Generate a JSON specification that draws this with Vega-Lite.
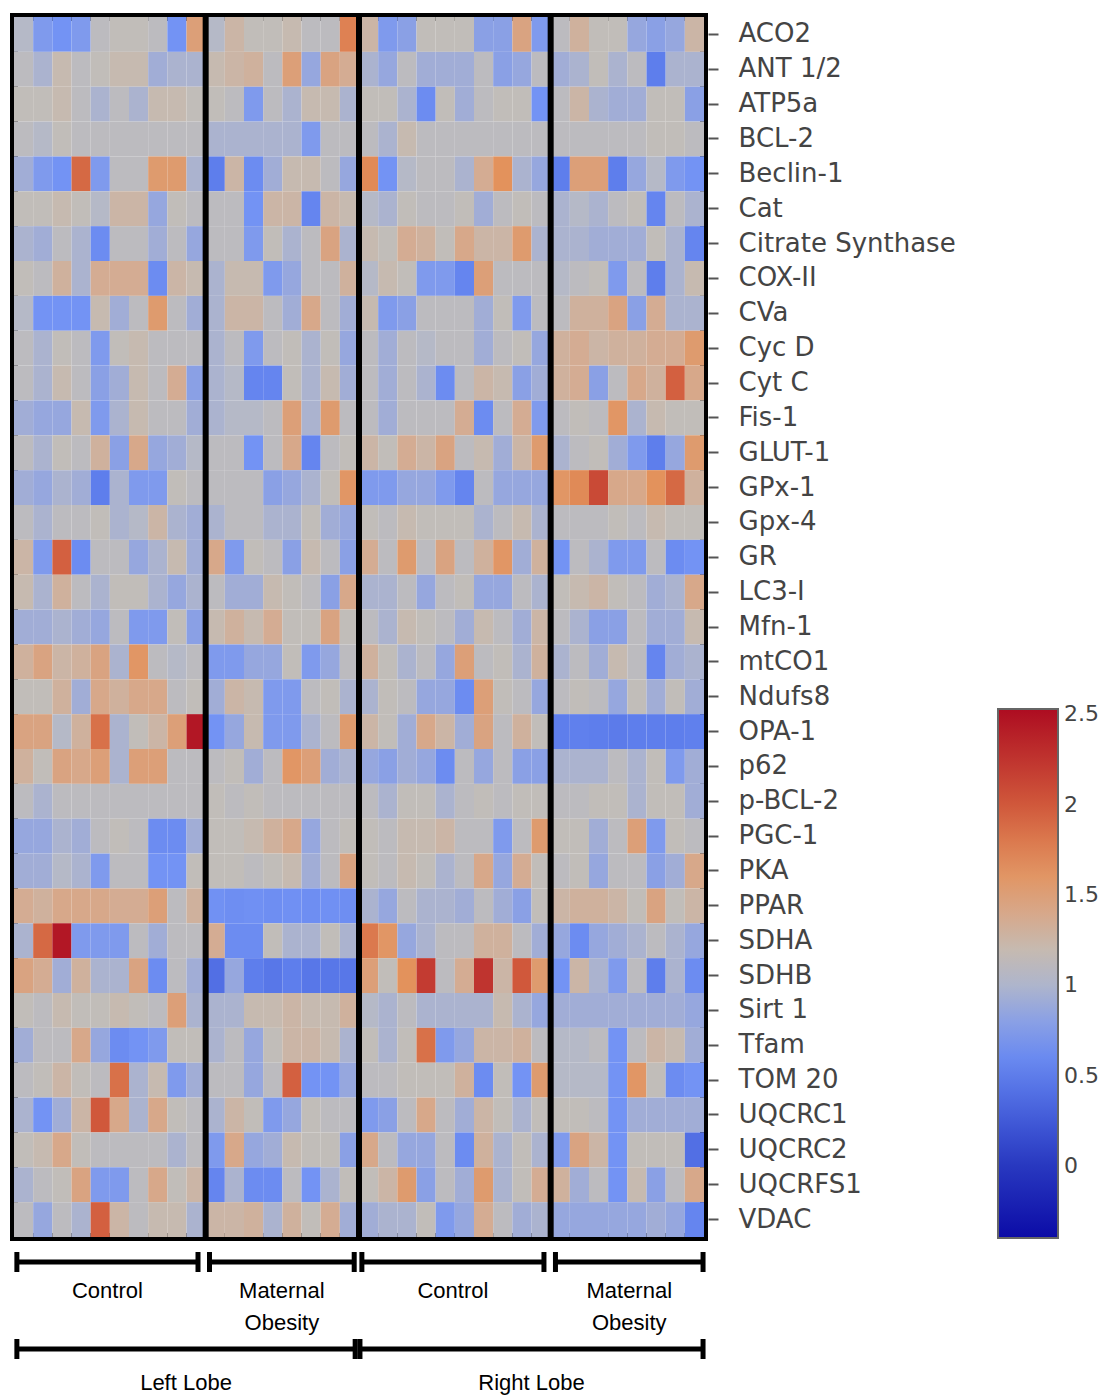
{
"$schema": "https://vega.github.io/schema/vega-lite/v6.json",
"padding": {"left": 10, "top": 10, "right": 0, "bottom": 0},
"background": "white",
"bounds": "flush",
"spacing": 0,
"config": {"font": "DejaVu Sans"},
"vconcat": [
{
"width": 690, "height": 1220,
"view": {"stroke": "black", "strokeWidth": 8},
"data": {"values": [
{"g":"ACO2","c":0,"v":1.04},{"g":"ACO2","c":1,"v":0.74},{"g":"ACO2","c":2,"v":0.68},{"g":"ACO2","c":3,"v":0.74},{"g":"ACO2","c":4,"v":1.1},{"g":"ACO2","c":5,"v":1.15},{"g":"ACO2","c":6,"v":1.15},{"g":"ACO2","c":7,"v":1.1},{"g":"ACO2","c":8,"v":0.68},{"g":"ACO2","c":9,"v":1.5},{"g":"ACO2","c":10,"v":1.04},{"g":"ACO2","c":11,"v":1.25},{"g":"ACO2","c":12,"v":1.15},{"g":"ACO2","c":13,"v":1.15},{"g":"ACO2","c":14,"v":1.2},{"g":"ACO2","c":15,"v":1.1},{"g":"ACO2","c":16,"v":1.1},{"g":"ACO2","c":17,"v":1.75},{"g":"ACO2","c":18,"v":1.25},{"g":"ACO2","c":19,"v":0.74},{"g":"ACO2","c":20,"v":0.8},{"g":"ACO2","c":21,"v":1.15},{"g":"ACO2","c":22,"v":1.15},{"g":"ACO2","c":23,"v":1.15},{"g":"ACO2","c":24,"v":0.8},{"g":"ACO2","c":25,"v":0.8},{"g":"ACO2","c":26,"v":1.45},{"g":"ACO2","c":27,"v":0.74},{"g":"ACO2","c":28,"v":1.1},{"g":"ACO2","c":29,"v":1.3},{"g":"ACO2","c":30,"v":1.15},{"g":"ACO2","c":31,"v":1.15},{"g":"ACO2","c":32,"v":0.86},{"g":"ACO2","c":33,"v":0.8},{"g":"ACO2","c":34,"v":0.86},{"g":"ACO2","c":35,"v":1.25},
{"g":"ANT 1/2","c":0,"v":1.1},{"g":"ANT 1/2","c":1,"v":0.98},{"g":"ANT 1/2","c":2,"v":1.2},{"g":"ANT 1/2","c":3,"v":1.1},{"g":"ANT 1/2","c":4,"v":1.15},{"g":"ANT 1/2","c":5,"v":1.2},{"g":"ANT 1/2","c":6,"v":1.2},{"g":"ANT 1/2","c":7,"v":0.92},{"g":"ANT 1/2","c":8,"v":0.98},{"g":"ANT 1/2","c":9,"v":0.98},{"g":"ANT 1/2","c":10,"v":1.2},{"g":"ANT 1/2","c":11,"v":1.25},{"g":"ANT 1/2","c":12,"v":1.3},{"g":"ANT 1/2","c":13,"v":1.1},{"g":"ANT 1/2","c":14,"v":1.5},{"g":"ANT 1/2","c":15,"v":0.86},{"g":"ANT 1/2","c":16,"v":1.45},{"g":"ANT 1/2","c":17,"v":1.35},{"g":"ANT 1/2","c":18,"v":0.98},{"g":"ANT 1/2","c":19,"v":0.86},{"g":"ANT 1/2","c":20,"v":1.1},{"g":"ANT 1/2","c":21,"v":0.92},{"g":"ANT 1/2","c":22,"v":0.92},{"g":"ANT 1/2","c":23,"v":0.92},{"g":"ANT 1/2","c":24,"v":1.1},{"g":"ANT 1/2","c":25,"v":0.8},{"g":"ANT 1/2","c":26,"v":0.86},{"g":"ANT 1/2","c":27,"v":1.1},{"g":"ANT 1/2","c":28,"v":0.92},{"g":"ANT 1/2","c":29,"v":0.98},{"g":"ANT 1/2","c":30,"v":1.15},{"g":"ANT 1/2","c":31,"v":0.98},{"g":"ANT 1/2","c":32,"v":1.1},{"g":"ANT 1/2","c":33,"v":0.5},{"g":"ANT 1/2","c":34,"v":0.98},{"g":"ANT 1/2","c":35,"v":0.98},
{"g":"ATP5a","c":0,"v":1.15},{"g":"ATP5a","c":1,"v":1.15},{"g":"ATP5a","c":2,"v":1.2},{"g":"ATP5a","c":3,"v":1.1},{"g":"ATP5a","c":4,"v":0.98},{"g":"ATP5a","c":5,"v":1.1},{"g":"ATP5a","c":6,"v":0.98},{"g":"ATP5a","c":7,"v":1.2},{"g":"ATP5a","c":8,"v":1.2},{"g":"ATP5a","c":9,"v":1.15},{"g":"ATP5a","c":10,"v":1.15},{"g":"ATP5a","c":11,"v":1.1},{"g":"ATP5a","c":12,"v":0.74},{"g":"ATP5a","c":13,"v":1.1},{"g":"ATP5a","c":14,"v":0.98},{"g":"ATP5a","c":15,"v":1.2},{"g":"ATP5a","c":16,"v":1.2},{"g":"ATP5a","c":17,"v":0.98},{"g":"ATP5a","c":18,"v":1.15},{"g":"ATP5a","c":19,"v":1.15},{"g":"ATP5a","c":20,"v":0.98},{"g":"ATP5a","c":21,"v":0.62},{"g":"ATP5a","c":22,"v":1.15},{"g":"ATP5a","c":23,"v":0.92},{"g":"ATP5a","c":24,"v":1.1},{"g":"ATP5a","c":25,"v":1.15},{"g":"ATP5a","c":26,"v":1.15},{"g":"ATP5a","c":27,"v":0.68},{"g":"ATP5a","c":28,"v":1.1},{"g":"ATP5a","c":29,"v":1.25},{"g":"ATP5a","c":30,"v":0.98},{"g":"ATP5a","c":31,"v":0.92},{"g":"ATP5a","c":32,"v":0.92},{"g":"ATP5a","c":33,"v":1.15},{"g":"ATP5a","c":34,"v":1.15},{"g":"ATP5a","c":35,"v":0.8},
{"g":"BCL-2","c":0,"v":1.1},{"g":"BCL-2","c":1,"v":1.04},{"g":"BCL-2","c":2,"v":1.15},{"g":"BCL-2","c":3,"v":1.1},{"g":"BCL-2","c":4,"v":1.1},{"g":"BCL-2","c":5,"v":1.1},{"g":"BCL-2","c":6,"v":1.1},{"g":"BCL-2","c":7,"v":1.1},{"g":"BCL-2","c":8,"v":1.1},{"g":"BCL-2","c":9,"v":1.1},{"g":"BCL-2","c":10,"v":0.98},{"g":"BCL-2","c":11,"v":0.98},{"g":"BCL-2","c":12,"v":0.98},{"g":"BCL-2","c":13,"v":0.98},{"g":"BCL-2","c":14,"v":0.98},{"g":"BCL-2","c":15,"v":0.74},{"g":"BCL-2","c":16,"v":1.1},{"g":"BCL-2","c":17,"v":1.1},{"g":"BCL-2","c":18,"v":1.1},{"g":"BCL-2","c":19,"v":0.98},{"g":"BCL-2","c":20,"v":1.2},{"g":"BCL-2","c":21,"v":1.1},{"g":"BCL-2","c":22,"v":1.1},{"g":"BCL-2","c":23,"v":1.1},{"g":"BCL-2","c":24,"v":1.1},{"g":"BCL-2","c":25,"v":1.1},{"g":"BCL-2","c":26,"v":1.1},{"g":"BCL-2","c":27,"v":1.1},{"g":"BCL-2","c":28,"v":1.1},{"g":"BCL-2","c":29,"v":1.1},{"g":"BCL-2","c":30,"v":1.1},{"g":"BCL-2","c":31,"v":1.1},{"g":"BCL-2","c":32,"v":1.1},{"g":"BCL-2","c":33,"v":1.15},{"g":"BCL-2","c":34,"v":1.15},{"g":"BCL-2","c":35,"v":1.1},
{"g":"Beclin-1","c":0,"v":0.92},{"g":"Beclin-1","c":1,"v":0.74},{"g":"Beclin-1","c":2,"v":0.68},{"g":"Beclin-1","c":3,"v":1.9},{"g":"Beclin-1","c":4,"v":0.74},{"g":"Beclin-1","c":5,"v":1.1},{"g":"Beclin-1","c":6,"v":1.1},{"g":"Beclin-1","c":7,"v":1.55},{"g":"Beclin-1","c":8,"v":1.55},{"g":"Beclin-1","c":9,"v":0.98},{"g":"Beclin-1","c":10,"v":0.5},{"g":"Beclin-1","c":11,"v":1.25},{"g":"Beclin-1","c":12,"v":0.62},{"g":"Beclin-1","c":13,"v":0.92},{"g":"Beclin-1","c":14,"v":1.2},{"g":"Beclin-1","c":15,"v":1.2},{"g":"Beclin-1","c":16,"v":1.1},{"g":"Beclin-1","c":17,"v":0.86},{"g":"Beclin-1","c":18,"v":1.7},{"g":"Beclin-1","c":19,"v":0.68},{"g":"Beclin-1","c":20,"v":1.04},{"g":"Beclin-1","c":21,"v":1.1},{"g":"Beclin-1","c":22,"v":1.1},{"g":"Beclin-1","c":23,"v":0.98},{"g":"Beclin-1","c":24,"v":1.35},{"g":"Beclin-1","c":25,"v":1.65},{"g":"Beclin-1","c":26,"v":0.98},{"g":"Beclin-1","c":27,"v":0.86},{"g":"Beclin-1","c":28,"v":0.5},{"g":"Beclin-1","c":29,"v":1.5},{"g":"Beclin-1","c":30,"v":1.5},{"g":"Beclin-1","c":31,"v":0.5},{"g":"Beclin-1","c":32,"v":0.86},{"g":"Beclin-1","c":33,"v":1.04},{"g":"Beclin-1","c":34,"v":0.74},{"g":"Beclin-1","c":35,"v":0.68},
{"g":"Cat","c":0,"v":1.15},{"g":"Cat","c":1,"v":1.15},{"g":"Cat","c":2,"v":1.2},{"g":"Cat","c":3,"v":1.15},{"g":"Cat","c":4,"v":1.04},{"g":"Cat","c":5,"v":1.25},{"g":"Cat","c":6,"v":1.25},{"g":"Cat","c":7,"v":0.86},{"g":"Cat","c":8,"v":1.15},{"g":"Cat","c":9,"v":1.1},{"g":"Cat","c":10,"v":1.1},{"g":"Cat","c":11,"v":1.1},{"g":"Cat","c":12,"v":0.68},{"g":"Cat","c":13,"v":1.25},{"g":"Cat","c":14,"v":1.25},{"g":"Cat","c":15,"v":0.56},{"g":"Cat","c":16,"v":1.25},{"g":"Cat","c":17,"v":1.2},{"g":"Cat","c":18,"v":1.04},{"g":"Cat","c":19,"v":0.98},{"g":"Cat","c":20,"v":1.15},{"g":"Cat","c":21,"v":1.1},{"g":"Cat","c":22,"v":1.1},{"g":"Cat","c":23,"v":1.15},{"g":"Cat","c":24,"v":0.92},{"g":"Cat","c":25,"v":1.1},{"g":"Cat","c":26,"v":1.15},{"g":"Cat","c":27,"v":1.1},{"g":"Cat","c":28,"v":0.98},{"g":"Cat","c":29,"v":1.04},{"g":"Cat","c":30,"v":0.98},{"g":"Cat","c":31,"v":1.1},{"g":"Cat","c":32,"v":1.15},{"g":"Cat","c":33,"v":0.56},{"g":"Cat","c":34,"v":1.1},{"g":"Cat","c":35,"v":0.98},
{"g":"Citrate Synthase","c":0,"v":0.98},{"g":"Citrate Synthase","c":1,"v":0.92},{"g":"Citrate Synthase","c":2,"v":1.1},{"g":"Citrate Synthase","c":3,"v":0.98},{"g":"Citrate Synthase","c":4,"v":0.62},{"g":"Citrate Synthase","c":5,"v":1.1},{"g":"Citrate Synthase","c":6,"v":1.1},{"g":"Citrate Synthase","c":7,"v":0.92},{"g":"Citrate Synthase","c":8,"v":1.1},{"g":"Citrate Synthase","c":9,"v":0.86},{"g":"Citrate Synthase","c":10,"v":1.1},{"g":"Citrate Synthase","c":11,"v":1.1},{"g":"Citrate Synthase","c":12,"v":0.74},{"g":"Citrate Synthase","c":13,"v":1.15},{"g":"Citrate Synthase","c":14,"v":0.98},{"g":"Citrate Synthase","c":15,"v":1.1},{"g":"Citrate Synthase","c":16,"v":1.45},{"g":"Citrate Synthase","c":17,"v":0.98},{"g":"Citrate Synthase","c":18,"v":1.2},{"g":"Citrate Synthase","c":19,"v":1.15},{"g":"Citrate Synthase","c":20,"v":1.35},{"g":"Citrate Synthase","c":21,"v":1.3},{"g":"Citrate Synthase","c":22,"v":1.15},{"g":"Citrate Synthase","c":23,"v":1.4},{"g":"Citrate Synthase","c":24,"v":1.25},{"g":"Citrate Synthase","c":25,"v":1.25},{"g":"Citrate Synthase","c":26,"v":1.55},{"g":"Citrate Synthase","c":27,"v":0.98},{"g":"Citrate Synthase","c":28,"v":0.98},{"g":"Citrate Synthase","c":29,"v":0.98},{"g":"Citrate Synthase","c":30,"v":0.92},{"g":"Citrate Synthase","c":31,"v":0.92},{"g":"Citrate Synthase","c":32,"v":0.92},{"g":"Citrate Synthase","c":33,"v":1.15},{"g":"Citrate Synthase","c":34,"v":0.98},{"g":"Citrate Synthase","c":35,"v":0.56},
{"g":"COX-II","c":0,"v":1.15},{"g":"COX-II","c":1,"v":1.1},{"g":"COX-II","c":2,"v":1.3},{"g":"COX-II","c":3,"v":0.98},{"g":"COX-II","c":4,"v":1.35},{"g":"COX-II","c":5,"v":1.35},{"g":"COX-II","c":6,"v":1.35},{"g":"COX-II","c":7,"v":0.62},{"g":"COX-II","c":8,"v":1.25},{"g":"COX-II","c":9,"v":1.2},{"g":"COX-II","c":10,"v":0.98},{"g":"COX-II","c":11,"v":1.2},{"g":"COX-II","c":12,"v":1.2},{"g":"COX-II","c":13,"v":0.74},{"g":"COX-II","c":14,"v":0.86},{"g":"COX-II","c":15,"v":1.1},{"g":"COX-II","c":16,"v":1.1},{"g":"COX-II","c":17,"v":1.3},{"g":"COX-II","c":18,"v":1.04},{"g":"COX-II","c":19,"v":1.2},{"g":"COX-II","c":20,"v":1.15},{"g":"COX-II","c":21,"v":0.74},{"g":"COX-II","c":22,"v":0.74},{"g":"COX-II","c":23,"v":0.56},{"g":"COX-II","c":24,"v":1.5},{"g":"COX-II","c":25,"v":1.1},{"g":"COX-II","c":26,"v":1.1},{"g":"COX-II","c":27,"v":1.1},{"g":"COX-II","c":28,"v":1.04},{"g":"COX-II","c":29,"v":1.1},{"g":"COX-II","c":30,"v":1.15},{"g":"COX-II","c":31,"v":0.74},{"g":"COX-II","c":32,"v":1.1},{"g":"COX-II","c":33,"v":0.5},{"g":"COX-II","c":34,"v":0.98},{"g":"COX-II","c":35,"v":1.2},
{"g":"CVa","c":0,"v":1.04},{"g":"CVa","c":1,"v":0.68},{"g":"CVa","c":2,"v":0.68},{"g":"CVa","c":3,"v":0.68},{"g":"CVa","c":4,"v":1.2},{"g":"CVa","c":5,"v":0.92},{"g":"CVa","c":6,"v":1.1},{"g":"CVa","c":7,"v":1.55},{"g":"CVa","c":8,"v":1.1},{"g":"CVa","c":9,"v":0.92},{"g":"CVa","c":10,"v":0.98},{"g":"CVa","c":11,"v":1.25},{"g":"CVa","c":12,"v":1.25},{"g":"CVa","c":13,"v":1.1},{"g":"CVa","c":14,"v":0.92},{"g":"CVa","c":15,"v":1.4},{"g":"CVa","c":16,"v":1.1},{"g":"CVa","c":17,"v":0.92},{"g":"CVa","c":18,"v":1.2},{"g":"CVa","c":19,"v":0.74},{"g":"CVa","c":20,"v":0.8},{"g":"CVa","c":21,"v":1.1},{"g":"CVa","c":22,"v":1.1},{"g":"CVa","c":23,"v":1.1},{"g":"CVa","c":24,"v":0.92},{"g":"CVa","c":25,"v":1.15},{"g":"CVa","c":26,"v":0.74},{"g":"CVa","c":27,"v":1.1},{"g":"CVa","c":28,"v":1.1},{"g":"CVa","c":29,"v":1.3},{"g":"CVa","c":30,"v":1.3},{"g":"CVa","c":31,"v":1.45},{"g":"CVa","c":32,"v":0.8},{"g":"CVa","c":33,"v":1.35},{"g":"CVa","c":34,"v":0.98},{"g":"CVa","c":35,"v":0.98},
{"g":"Cyc D","c":0,"v":1.1},{"g":"Cyc D","c":1,"v":0.98},{"g":"Cyc D","c":2,"v":1.15},{"g":"Cyc D","c":3,"v":1.1},{"g":"Cyc D","c":4,"v":0.74},{"g":"Cyc D","c":5,"v":1.15},{"g":"Cyc D","c":6,"v":1.2},{"g":"Cyc D","c":7,"v":1.1},{"g":"Cyc D","c":8,"v":1.1},{"g":"Cyc D","c":9,"v":1.1},{"g":"Cyc D","c":10,"v":0.98},{"g":"Cyc D","c":11,"v":1.1},{"g":"Cyc D","c":12,"v":0.74},{"g":"Cyc D","c":13,"v":1.1},{"g":"Cyc D","c":14,"v":1.15},{"g":"Cyc D","c":15,"v":0.98},{"g":"Cyc D","c":16,"v":1.15},{"g":"Cyc D","c":17,"v":0.86},{"g":"Cyc D","c":18,"v":1.1},{"g":"Cyc D","c":19,"v":0.92},{"g":"Cyc D","c":20,"v":1.1},{"g":"Cyc D","c":21,"v":1.04},{"g":"Cyc D","c":22,"v":1.1},{"g":"Cyc D","c":23,"v":1.1},{"g":"Cyc D","c":24,"v":0.92},{"g":"Cyc D","c":25,"v":1.1},{"g":"Cyc D","c":26,"v":1.15},{"g":"Cyc D","c":27,"v":0.86},{"g":"Cyc D","c":28,"v":1.3},{"g":"Cyc D","c":29,"v":1.35},{"g":"Cyc D","c":30,"v":1.25},{"g":"Cyc D","c":31,"v":1.3},{"g":"Cyc D","c":32,"v":1.3},{"g":"Cyc D","c":33,"v":1.35},{"g":"Cyc D","c":34,"v":1.35},{"g":"Cyc D","c":35,"v":1.55},
{"g":"Cyt C","c":0,"v":1.1},{"g":"Cyt C","c":1,"v":0.98},{"g":"Cyt C","c":2,"v":1.2},{"g":"Cyt C","c":3,"v":1.1},{"g":"Cyt C","c":4,"v":0.8},{"g":"Cyt C","c":5,"v":0.92},{"g":"Cyt C","c":6,"v":1.2},{"g":"Cyt C","c":7,"v":1.1},{"g":"Cyt C","c":8,"v":1.35},{"g":"Cyt C","c":9,"v":0.8},{"g":"Cyt C","c":10,"v":0.98},{"g":"Cyt C","c":11,"v":1.04},{"g":"Cyt C","c":12,"v":0.56},{"g":"Cyt C","c":13,"v":0.56},{"g":"Cyt C","c":14,"v":1.15},{"g":"Cyt C","c":15,"v":0.98},{"g":"Cyt C","c":16,"v":1.2},{"g":"Cyt C","c":17,"v":0.92},{"g":"Cyt C","c":18,"v":1.1},{"g":"Cyt C","c":19,"v":0.92},{"g":"Cyt C","c":20,"v":1.1},{"g":"Cyt C","c":21,"v":0.98},{"g":"Cyt C","c":22,"v":0.62},{"g":"Cyt C","c":23,"v":1.1},{"g":"Cyt C","c":24,"v":1.25},{"g":"Cyt C","c":25,"v":1.2},{"g":"Cyt C","c":26,"v":0.8},{"g":"Cyt C","c":27,"v":0.92},{"g":"Cyt C","c":28,"v":1.3},{"g":"Cyt C","c":29,"v":1.35},{"g":"Cyt C","c":30,"v":0.8},{"g":"Cyt C","c":31,"v":1.1},{"g":"Cyt C","c":32,"v":1.4},{"g":"Cyt C","c":33,"v":1.3},{"g":"Cyt C","c":34,"v":1.95},{"g":"Cyt C","c":35,"v":1.4},
{"g":"Fis-1","c":0,"v":0.92},{"g":"Fis-1","c":1,"v":0.86},{"g":"Fis-1","c":2,"v":0.86},{"g":"Fis-1","c":3,"v":1.2},{"g":"Fis-1","c":4,"v":0.74},{"g":"Fis-1","c":5,"v":0.98},{"g":"Fis-1","c":6,"v":1.2},{"g":"Fis-1","c":7,"v":1.1},{"g":"Fis-1","c":8,"v":1.1},{"g":"Fis-1","c":9,"v":0.92},{"g":"Fis-1","c":10,"v":0.98},{"g":"Fis-1","c":11,"v":1.04},{"g":"Fis-1","c":12,"v":1.04},{"g":"Fis-1","c":13,"v":1.1},{"g":"Fis-1","c":14,"v":1.5},{"g":"Fis-1","c":15,"v":0.98},{"g":"Fis-1","c":16,"v":1.55},{"g":"Fis-1","c":17,"v":1.1},{"g":"Fis-1","c":18,"v":1.1},{"g":"Fis-1","c":19,"v":0.92},{"g":"Fis-1","c":20,"v":1.1},{"g":"Fis-1","c":21,"v":1.1},{"g":"Fis-1","c":22,"v":1.1},{"g":"Fis-1","c":23,"v":1.35},{"g":"Fis-1","c":24,"v":0.62},{"g":"Fis-1","c":25,"v":1.1},{"g":"Fis-1","c":26,"v":1.35},{"g":"Fis-1","c":27,"v":0.74},{"g":"Fis-1","c":28,"v":1.1},{"g":"Fis-1","c":29,"v":1.15},{"g":"Fis-1","c":30,"v":1.1},{"g":"Fis-1","c":31,"v":1.6},{"g":"Fis-1","c":32,"v":0.98},{"g":"Fis-1","c":33,"v":1.2},{"g":"Fis-1","c":34,"v":1.15},{"g":"Fis-1","c":35,"v":1.15},
{"g":"GLUT-1","c":0,"v":1.1},{"g":"GLUT-1","c":1,"v":0.98},{"g":"GLUT-1","c":2,"v":1.15},{"g":"GLUT-1","c":3,"v":1.1},{"g":"GLUT-1","c":4,"v":1.3},{"g":"GLUT-1","c":5,"v":0.8},{"g":"GLUT-1","c":6,"v":1.4},{"g":"GLUT-1","c":7,"v":0.86},{"g":"GLUT-1","c":8,"v":0.92},{"g":"GLUT-1","c":9,"v":1.04},{"g":"GLUT-1","c":10,"v":1.1},{"g":"GLUT-1","c":11,"v":1.1},{"g":"GLUT-1","c":12,"v":0.68},{"g":"GLUT-1","c":13,"v":1.1},{"g":"GLUT-1","c":14,"v":1.4},{"g":"GLUT-1","c":15,"v":0.56},{"g":"GLUT-1","c":16,"v":1.1},{"g":"GLUT-1","c":17,"v":1.15},{"g":"GLUT-1","c":18,"v":1.25},{"g":"GLUT-1","c":19,"v":1.15},{"g":"GLUT-1","c":20,"v":1.35},{"g":"GLUT-1","c":21,"v":1.25},{"g":"GLUT-1","c":22,"v":1.45},{"g":"GLUT-1","c":23,"v":1.1},{"g":"GLUT-1","c":24,"v":1.2},{"g":"GLUT-1","c":25,"v":0.92},{"g":"GLUT-1","c":26,"v":1.25},{"g":"GLUT-1","c":27,"v":1.55},{"g":"GLUT-1","c":28,"v":0.98},{"g":"GLUT-1","c":29,"v":1.1},{"g":"GLUT-1","c":30,"v":1.15},{"g":"GLUT-1","c":31,"v":0.92},{"g":"GLUT-1","c":32,"v":0.74},{"g":"GLUT-1","c":33,"v":0.5},{"g":"GLUT-1","c":34,"v":0.86},{"g":"GLUT-1","c":35,"v":1.55},
{"g":"GPx-1","c":0,"v":0.92},{"g":"GPx-1","c":1,"v":0.86},{"g":"GPx-1","c":2,"v":0.98},{"g":"GPx-1","c":3,"v":0.92},{"g":"GPx-1","c":4,"v":0.5},{"g":"GPx-1","c":5,"v":0.98},{"g":"GPx-1","c":6,"v":0.74},{"g":"GPx-1","c":7,"v":0.74},{"g":"GPx-1","c":8,"v":1.15},{"g":"GPx-1","c":9,"v":1.1},{"g":"GPx-1","c":10,"v":1.1},{"g":"GPx-1","c":11,"v":1.1},{"g":"GPx-1","c":12,"v":1.1},{"g":"GPx-1","c":13,"v":0.8},{"g":"GPx-1","c":14,"v":0.86},{"g":"GPx-1","c":15,"v":0.98},{"g":"GPx-1","c":16,"v":1.15},{"g":"GPx-1","c":17,"v":1.6},{"g":"GPx-1","c":18,"v":0.74},{"g":"GPx-1","c":19,"v":0.74},{"g":"GPx-1","c":20,"v":0.86},{"g":"GPx-1","c":21,"v":0.86},{"g":"GPx-1","c":22,"v":0.74},{"g":"GPx-1","c":23,"v":0.56},{"g":"GPx-1","c":24,"v":1.1},{"g":"GPx-1","c":25,"v":0.86},{"g":"GPx-1","c":26,"v":0.86},{"g":"GPx-1","c":27,"v":0.86},{"g":"GPx-1","c":28,"v":1.6},{"g":"GPx-1","c":29,"v":1.7},{"g":"GPx-1","c":30,"v":2.1},{"g":"GPx-1","c":31,"v":1.4},{"g":"GPx-1","c":32,"v":1.4},{"g":"GPx-1","c":33,"v":1.65},{"g":"GPx-1","c":34,"v":1.9},{"g":"GPx-1","c":35,"v":1.3},
{"g":"Gpx-4","c":0,"v":1.1},{"g":"Gpx-4","c":1,"v":0.98},{"g":"Gpx-4","c":2,"v":1.1},{"g":"Gpx-4","c":3,"v":1.1},{"g":"Gpx-4","c":4,"v":1.15},{"g":"Gpx-4","c":5,"v":0.98},{"g":"Gpx-4","c":6,"v":1.04},{"g":"Gpx-4","c":7,"v":1.25},{"g":"Gpx-4","c":8,"v":0.98},{"g":"Gpx-4","c":9,"v":0.92},{"g":"Gpx-4","c":10,"v":0.98},{"g":"Gpx-4","c":11,"v":1.1},{"g":"Gpx-4","c":12,"v":1.1},{"g":"Gpx-4","c":13,"v":0.98},{"g":"Gpx-4","c":14,"v":0.98},{"g":"Gpx-4","c":15,"v":1.15},{"g":"Gpx-4","c":16,"v":0.92},{"g":"Gpx-4","c":17,"v":0.86},{"g":"Gpx-4","c":18,"v":1.15},{"g":"Gpx-4","c":19,"v":1.1},{"g":"Gpx-4","c":20,"v":1.2},{"g":"Gpx-4","c":21,"v":1.15},{"g":"Gpx-4","c":22,"v":1.15},{"g":"Gpx-4","c":23,"v":1.15},{"g":"Gpx-4","c":24,"v":0.98},{"g":"Gpx-4","c":25,"v":1.1},{"g":"Gpx-4","c":26,"v":1.2},{"g":"Gpx-4","c":27,"v":0.98},{"g":"Gpx-4","c":28,"v":1.1},{"g":"Gpx-4","c":29,"v":1.1},{"g":"Gpx-4","c":30,"v":1.1},{"g":"Gpx-4","c":31,"v":1.15},{"g":"Gpx-4","c":32,"v":1.1},{"g":"Gpx-4","c":33,"v":1.2},{"g":"Gpx-4","c":34,"v":1.15},{"g":"Gpx-4","c":35,"v":1.15},
{"g":"GR","c":0,"v":1.25},{"g":"GR","c":1,"v":0.74},{"g":"GR","c":2,"v":1.95},{"g":"GR","c":3,"v":0.62},{"g":"GR","c":4,"v":1.1},{"g":"GR","c":5,"v":1.1},{"g":"GR","c":6,"v":0.86},{"g":"GR","c":7,"v":0.98},{"g":"GR","c":8,"v":1.2},{"g":"GR","c":9,"v":0.92},{"g":"GR","c":10,"v":1.4},{"g":"GR","c":11,"v":0.74},{"g":"GR","c":12,"v":1.15},{"g":"GR","c":13,"v":1.1},{"g":"GR","c":14,"v":0.8},{"g":"GR","c":15,"v":1.2},{"g":"GR","c":16,"v":1.1},{"g":"GR","c":17,"v":0.8},{"g":"GR","c":18,"v":1.35},{"g":"GR","c":19,"v":1.1},{"g":"GR","c":20,"v":1.55},{"g":"GR","c":21,"v":1.1},{"g":"GR","c":22,"v":1.45},{"g":"GR","c":23,"v":1.1},{"g":"GR","c":24,"v":1.3},{"g":"GR","c":25,"v":1.6},{"g":"GR","c":26,"v":0.92},{"g":"GR","c":27,"v":1.3},{"g":"GR","c":28,"v":0.68},{"g":"GR","c":29,"v":1.1},{"g":"GR","c":30,"v":0.98},{"g":"GR","c":31,"v":0.74},{"g":"GR","c":32,"v":0.74},{"g":"GR","c":33,"v":1.1},{"g":"GR","c":34,"v":0.62},{"g":"GR","c":35,"v":0.68},
{"g":"LC3-I","c":0,"v":1.2},{"g":"LC3-I","c":1,"v":0.98},{"g":"LC3-I","c":2,"v":1.3},{"g":"LC3-I","c":3,"v":1.1},{"g":"LC3-I","c":4,"v":0.98},{"g":"LC3-I","c":5,"v":1.15},{"g":"LC3-I","c":6,"v":1.15},{"g":"LC3-I","c":7,"v":0.98},{"g":"LC3-I","c":8,"v":0.86},{"g":"LC3-I","c":9,"v":0.98},{"g":"LC3-I","c":10,"v":1.1},{"g":"LC3-I","c":11,"v":0.92},{"g":"LC3-I","c":12,"v":0.92},{"g":"LC3-I","c":13,"v":1.2},{"g":"LC3-I","c":14,"v":1.15},{"g":"LC3-I","c":15,"v":1.1},{"g":"LC3-I","c":16,"v":0.8},{"g":"LC3-I","c":17,"v":1.4},{"g":"LC3-I","c":18,"v":0.98},{"g":"LC3-I","c":19,"v":0.98},{"g":"LC3-I","c":20,"v":1.1},{"g":"LC3-I","c":21,"v":0.86},{"g":"LC3-I","c":22,"v":1.1},{"g":"LC3-I","c":23,"v":1.15},{"g":"LC3-I","c":24,"v":0.86},{"g":"LC3-I","c":25,"v":0.86},{"g":"LC3-I","c":26,"v":1.1},{"g":"LC3-I","c":27,"v":0.98},{"g":"LC3-I","c":28,"v":1.15},{"g":"LC3-I","c":29,"v":1.2},{"g":"LC3-I","c":30,"v":1.25},{"g":"LC3-I","c":31,"v":1.15},{"g":"LC3-I","c":32,"v":1.1},{"g":"LC3-I","c":33,"v":0.92},{"g":"LC3-I","c":34,"v":0.98},{"g":"LC3-I","c":35,"v":1.4},
{"g":"Mfn-1","c":0,"v":0.92},{"g":"Mfn-1","c":1,"v":0.92},{"g":"Mfn-1","c":2,"v":0.98},{"g":"Mfn-1","c":3,"v":0.92},{"g":"Mfn-1","c":4,"v":0.86},{"g":"Mfn-1","c":5,"v":1.1},{"g":"Mfn-1","c":6,"v":0.74},{"g":"Mfn-1","c":7,"v":0.74},{"g":"Mfn-1","c":8,"v":1.15},{"g":"Mfn-1","c":9,"v":0.8},{"g":"Mfn-1","c":10,"v":1.2},{"g":"Mfn-1","c":11,"v":1.3},{"g":"Mfn-1","c":12,"v":1.2},{"g":"Mfn-1","c":13,"v":1.35},{"g":"Mfn-1","c":14,"v":1.15},{"g":"Mfn-1","c":15,"v":1.15},{"g":"Mfn-1","c":16,"v":1.45},{"g":"Mfn-1","c":17,"v":1.15},{"g":"Mfn-1","c":18,"v":1.1},{"g":"Mfn-1","c":19,"v":0.98},{"g":"Mfn-1","c":20,"v":1.2},{"g":"Mfn-1","c":21,"v":1.15},{"g":"Mfn-1","c":22,"v":1.1},{"g":"Mfn-1","c":23,"v":0.92},{"g":"Mfn-1","c":24,"v":1.2},{"g":"Mfn-1","c":25,"v":1.1},{"g":"Mfn-1","c":26,"v":0.92},{"g":"Mfn-1","c":27,"v":1.25},{"g":"Mfn-1","c":28,"v":1.1},{"g":"Mfn-1","c":29,"v":0.98},{"g":"Mfn-1","c":30,"v":0.8},{"g":"Mfn-1","c":31,"v":0.8},{"g":"Mfn-1","c":32,"v":1.1},{"g":"Mfn-1","c":33,"v":0.92},{"g":"Mfn-1","c":34,"v":0.92},{"g":"Mfn-1","c":35,"v":1.2},
{"g":"mtCO1","c":0,"v":1.3},{"g":"mtCO1","c":1,"v":1.45},{"g":"mtCO1","c":2,"v":1.25},{"g":"mtCO1","c":3,"v":1.3},{"g":"mtCO1","c":4,"v":1.45},{"g":"mtCO1","c":5,"v":0.98},{"g":"mtCO1","c":6,"v":1.6},{"g":"mtCO1","c":7,"v":1.1},{"g":"mtCO1","c":8,"v":1.04},{"g":"mtCO1","c":9,"v":1.1},{"g":"mtCO1","c":10,"v":0.74},{"g":"mtCO1","c":11,"v":0.74},{"g":"mtCO1","c":12,"v":0.86},{"g":"mtCO1","c":13,"v":0.86},{"g":"mtCO1","c":14,"v":1.15},{"g":"mtCO1","c":15,"v":0.74},{"g":"mtCO1","c":16,"v":0.86},{"g":"mtCO1","c":17,"v":1.1},{"g":"mtCO1","c":18,"v":1.3},{"g":"mtCO1","c":19,"v":1.15},{"g":"mtCO1","c":20,"v":0.98},{"g":"mtCO1","c":21,"v":1.1},{"g":"mtCO1","c":22,"v":0.86},{"g":"mtCO1","c":23,"v":1.5},{"g":"mtCO1","c":24,"v":1.1},{"g":"mtCO1","c":25,"v":1.15},{"g":"mtCO1","c":26,"v":0.98},{"g":"mtCO1","c":27,"v":1.3},{"g":"mtCO1","c":28,"v":0.98},{"g":"mtCO1","c":29,"v":1.1},{"g":"mtCO1","c":30,"v":0.92},{"g":"mtCO1","c":31,"v":1.2},{"g":"mtCO1","c":32,"v":1.1},{"g":"mtCO1","c":33,"v":0.56},{"g":"mtCO1","c":34,"v":0.92},{"g":"mtCO1","c":35,"v":0.98},
{"g":"Ndufs8","c":0,"v":1.15},{"g":"Ndufs8","c":1,"v":1.15},{"g":"Ndufs8","c":2,"v":1.3},{"g":"Ndufs8","c":3,"v":0.92},{"g":"Ndufs8","c":4,"v":1.4},{"g":"Ndufs8","c":5,"v":1.3},{"g":"Ndufs8","c":6,"v":1.4},{"g":"Ndufs8","c":7,"v":1.4},{"g":"Ndufs8","c":8,"v":1.1},{"g":"Ndufs8","c":9,"v":1.15},{"g":"Ndufs8","c":10,"v":0.92},{"g":"Ndufs8","c":11,"v":1.25},{"g":"Ndufs8","c":12,"v":1.2},{"g":"Ndufs8","c":13,"v":0.74},{"g":"Ndufs8","c":14,"v":0.74},{"g":"Ndufs8","c":15,"v":1.1},{"g":"Ndufs8","c":16,"v":1.15},{"g":"Ndufs8","c":17,"v":0.98},{"g":"Ndufs8","c":18,"v":0.98},{"g":"Ndufs8","c":19,"v":1.15},{"g":"Ndufs8","c":20,"v":1.1},{"g":"Ndufs8","c":21,"v":0.86},{"g":"Ndufs8","c":22,"v":0.86},{"g":"Ndufs8","c":23,"v":0.62},{"g":"Ndufs8","c":24,"v":1.5},{"g":"Ndufs8","c":25,"v":1.15},{"g":"Ndufs8","c":26,"v":1.1},{"g":"Ndufs8","c":27,"v":0.86},{"g":"Ndufs8","c":28,"v":1.1},{"g":"Ndufs8","c":29,"v":1.15},{"g":"Ndufs8","c":30,"v":1.1},{"g":"Ndufs8","c":31,"v":0.86},{"g":"Ndufs8","c":32,"v":1.15},{"g":"Ndufs8","c":33,"v":0.92},{"g":"Ndufs8","c":34,"v":1.15},{"g":"Ndufs8","c":35,"v":0.92},
{"g":"OPA-1","c":0,"v":1.45},{"g":"OPA-1","c":1,"v":1.45},{"g":"OPA-1","c":2,"v":1.04},{"g":"OPA-1","c":3,"v":1.3},{"g":"OPA-1","c":4,"v":1.85},{"g":"OPA-1","c":5,"v":0.98},{"g":"OPA-1","c":6,"v":1.15},{"g":"OPA-1","c":7,"v":1.25},{"g":"OPA-1","c":8,"v":1.5},{"g":"OPA-1","c":9,"v":2.45},{"g":"OPA-1","c":10,"v":0.68},{"g":"OPA-1","c":11,"v":0.86},{"g":"OPA-1","c":12,"v":1.2},{"g":"OPA-1","c":13,"v":0.74},{"g":"OPA-1","c":14,"v":0.74},{"g":"OPA-1","c":15,"v":0.98},{"g":"OPA-1","c":16,"v":1.1},{"g":"OPA-1","c":17,"v":1.55},{"g":"OPA-1","c":18,"v":1.25},{"g":"OPA-1","c":19,"v":1.15},{"g":"OPA-1","c":20,"v":0.92},{"g":"OPA-1","c":21,"v":1.4},{"g":"OPA-1","c":22,"v":1.25},{"g":"OPA-1","c":23,"v":0.92},{"g":"OPA-1","c":24,"v":1.45},{"g":"OPA-1","c":25,"v":1.1},{"g":"OPA-1","c":26,"v":1.3},{"g":"OPA-1","c":27,"v":1.15},{"g":"OPA-1","c":28,"v":0.5},{"g":"OPA-1","c":29,"v":0.52},{"g":"OPA-1","c":30,"v":0.5},{"g":"OPA-1","c":31,"v":0.48},{"g":"OPA-1","c":32,"v":0.5},{"g":"OPA-1","c":33,"v":0.5},{"g":"OPA-1","c":34,"v":0.5},{"g":"OPA-1","c":35,"v":0.52},
{"g":"p62","c":0,"v":1.3},{"g":"p62","c":1,"v":1.15},{"g":"p62","c":2,"v":1.45},{"g":"p62","c":3,"v":1.4},{"g":"p62","c":4,"v":1.5},{"g":"p62","c":5,"v":0.98},{"g":"p62","c":6,"v":1.5},{"g":"p62","c":7,"v":1.5},{"g":"p62","c":8,"v":1.1},{"g":"p62","c":9,"v":1.1},{"g":"p62","c":10,"v":1.1},{"g":"p62","c":11,"v":1.15},{"g":"p62","c":12,"v":0.92},{"g":"p62","c":13,"v":1.1},{"g":"p62","c":14,"v":1.6},{"g":"p62","c":15,"v":1.5},{"g":"p62","c":16,"v":0.92},{"g":"p62","c":17,"v":0.98},{"g":"p62","c":18,"v":0.86},{"g":"p62","c":19,"v":0.8},{"g":"p62","c":20,"v":0.92},{"g":"p62","c":21,"v":0.86},{"g":"p62","c":22,"v":0.62},{"g":"p62","c":23,"v":1.1},{"g":"p62","c":24,"v":0.86},{"g":"p62","c":25,"v":1.1},{"g":"p62","c":26,"v":0.8},{"g":"p62","c":27,"v":0.8},{"g":"p62","c":28,"v":0.98},{"g":"p62","c":29,"v":0.98},{"g":"p62","c":30,"v":0.98},{"g":"p62","c":31,"v":1.1},{"g":"p62","c":32,"v":0.98},{"g":"p62","c":33,"v":1.15},{"g":"p62","c":34,"v":0.74},{"g":"p62","c":35,"v":0.92},
{"g":"p-BCL-2","c":0,"v":1.1},{"g":"p-BCL-2","c":1,"v":0.98},{"g":"p-BCL-2","c":2,"v":1.1},{"g":"p-BCL-2","c":3,"v":1.1},{"g":"p-BCL-2","c":4,"v":1.1},{"g":"p-BCL-2","c":5,"v":1.1},{"g":"p-BCL-2","c":6,"v":1.1},{"g":"p-BCL-2","c":7,"v":1.1},{"g":"p-BCL-2","c":8,"v":1.1},{"g":"p-BCL-2","c":9,"v":1.1},{"g":"p-BCL-2","c":10,"v":1.15},{"g":"p-BCL-2","c":11,"v":1.1},{"g":"p-BCL-2","c":12,"v":1.15},{"g":"p-BCL-2","c":13,"v":1.1},{"g":"p-BCL-2","c":14,"v":1.1},{"g":"p-BCL-2","c":15,"v":1.1},{"g":"p-BCL-2","c":16,"v":1.1},{"g":"p-BCL-2","c":17,"v":1.1},{"g":"p-BCL-2","c":18,"v":1.1},{"g":"p-BCL-2","c":19,"v":0.98},{"g":"p-BCL-2","c":20,"v":1.15},{"g":"p-BCL-2","c":21,"v":1.15},{"g":"p-BCL-2","c":22,"v":0.98},{"g":"p-BCL-2","c":23,"v":1.1},{"g":"p-BCL-2","c":24,"v":1.15},{"g":"p-BCL-2","c":25,"v":1.1},{"g":"p-BCL-2","c":26,"v":1.15},{"g":"p-BCL-2","c":27,"v":1.15},{"g":"p-BCL-2","c":28,"v":1.1},{"g":"p-BCL-2","c":29,"v":1.1},{"g":"p-BCL-2","c":30,"v":1.15},{"g":"p-BCL-2","c":31,"v":1.15},{"g":"p-BCL-2","c":32,"v":0.98},{"g":"p-BCL-2","c":33,"v":1.15},{"g":"p-BCL-2","c":34,"v":1.15},{"g":"p-BCL-2","c":35,"v":0.92},
{"g":"PGC-1","c":0,"v":0.86},{"g":"PGC-1","c":1,"v":0.86},{"g":"PGC-1","c":2,"v":0.98},{"g":"PGC-1","c":3,"v":0.92},{"g":"PGC-1","c":4,"v":1.1},{"g":"PGC-1","c":5,"v":1.15},{"g":"PGC-1","c":6,"v":1.1},{"g":"PGC-1","c":7,"v":0.62},{"g":"PGC-1","c":8,"v":0.62},{"g":"PGC-1","c":9,"v":0.92},{"g":"PGC-1","c":10,"v":1.15},{"g":"PGC-1","c":11,"v":1.15},{"g":"PGC-1","c":12,"v":1.2},{"g":"PGC-1","c":13,"v":1.3},{"g":"PGC-1","c":14,"v":1.4},{"g":"PGC-1","c":15,"v":0.86},{"g":"PGC-1","c":16,"v":1.1},{"g":"PGC-1","c":17,"v":1.15},{"g":"PGC-1","c":18,"v":1.15},{"g":"PGC-1","c":19,"v":1.1},{"g":"PGC-1","c":20,"v":1.2},{"g":"PGC-1","c":21,"v":1.2},{"g":"PGC-1","c":22,"v":1.25},{"g":"PGC-1","c":23,"v":1.1},{"g":"PGC-1","c":24,"v":1.1},{"g":"PGC-1","c":25,"v":0.74},{"g":"PGC-1","c":26,"v":1.1},{"g":"PGC-1","c":27,"v":1.55},{"g":"PGC-1","c":28,"v":1.15},{"g":"PGC-1","c":29,"v":1.15},{"g":"PGC-1","c":30,"v":0.92},{"g":"PGC-1","c":31,"v":1.1},{"g":"PGC-1","c":32,"v":1.5},{"g":"PGC-1","c":33,"v":0.74},{"g":"PGC-1","c":34,"v":1.15},{"g":"PGC-1","c":35,"v":1.1},
{"g":"PKA","c":0,"v":0.92},{"g":"PKA","c":1,"v":0.92},{"g":"PKA","c":2,"v":1.04},{"g":"PKA","c":3,"v":0.98},{"g":"PKA","c":4,"v":0.74},{"g":"PKA","c":5,"v":1.1},{"g":"PKA","c":6,"v":1.1},{"g":"PKA","c":7,"v":0.68},{"g":"PKA","c":8,"v":0.68},{"g":"PKA","c":9,"v":1.15},{"g":"PKA","c":10,"v":1.15},{"g":"PKA","c":11,"v":1.15},{"g":"PKA","c":12,"v":1.1},{"g":"PKA","c":13,"v":1.15},{"g":"PKA","c":14,"v":1.2},{"g":"PKA","c":15,"v":0.92},{"g":"PKA","c":16,"v":1.1},{"g":"PKA","c":17,"v":1.45},{"g":"PKA","c":18,"v":1.15},{"g":"PKA","c":19,"v":1.1},{"g":"PKA","c":20,"v":1.2},{"g":"PKA","c":21,"v":1.15},{"g":"PKA","c":22,"v":0.98},{"g":"PKA","c":23,"v":1.1},{"g":"PKA","c":24,"v":1.4},{"g":"PKA","c":25,"v":0.86},{"g":"PKA","c":26,"v":1.35},{"g":"PKA","c":27,"v":1.15},{"g":"PKA","c":28,"v":1.1},{"g":"PKA","c":29,"v":1.15},{"g":"PKA","c":30,"v":0.86},{"g":"PKA","c":31,"v":1.1},{"g":"PKA","c":32,"v":1.1},{"g":"PKA","c":33,"v":0.8},{"g":"PKA","c":34,"v":0.92},{"g":"PKA","c":35,"v":1.4},
{"g":"PPAR","c":0,"v":1.35},{"g":"PPAR","c":1,"v":1.3},{"g":"PPAR","c":2,"v":1.4},{"g":"PPAR","c":3,"v":1.4},{"g":"PPAR","c":4,"v":1.4},{"g":"PPAR","c":5,"v":1.35},{"g":"PPAR","c":6,"v":1.35},{"g":"PPAR","c":7,"v":1.5},{"g":"PPAR","c":8,"v":1.1},{"g":"PPAR","c":9,"v":1.3},{"g":"PPAR","c":10,"v":0.66},{"g":"PPAR","c":11,"v":0.64},{"g":"PPAR","c":12,"v":0.65},{"g":"PPAR","c":13,"v":0.64},{"g":"PPAR","c":14,"v":0.65},{"g":"PPAR","c":15,"v":0.64},{"g":"PPAR","c":16,"v":0.65},{"g":"PPAR","c":17,"v":0.64},{"g":"PPAR","c":18,"v":0.98},{"g":"PPAR","c":19,"v":0.86},{"g":"PPAR","c":20,"v":1.1},{"g":"PPAR","c":21,"v":0.98},{"g":"PPAR","c":22,"v":0.98},{"g":"PPAR","c":23,"v":0.92},{"g":"PPAR","c":24,"v":1.1},{"g":"PPAR","c":25,"v":0.92},{"g":"PPAR","c":26,"v":0.8},{"g":"PPAR","c":27,"v":1.15},{"g":"PPAR","c":28,"v":1.25},{"g":"PPAR","c":29,"v":1.3},{"g":"PPAR","c":30,"v":1.3},{"g":"PPAR","c":31,"v":1.25},{"g":"PPAR","c":32,"v":1.15},{"g":"PPAR","c":33,"v":1.45},{"g":"PPAR","c":34,"v":1.15},{"g":"PPAR","c":35,"v":1.25},
{"g":"SDHA","c":0,"v":0.98},{"g":"SDHA","c":1,"v":1.9},{"g":"SDHA","c":2,"v":2.45},{"g":"SDHA","c":3,"v":0.74},{"g":"SDHA","c":4,"v":0.74},{"g":"SDHA","c":5,"v":0.74},{"g":"SDHA","c":6,"v":1.1},{"g":"SDHA","c":7,"v":0.92},{"g":"SDHA","c":8,"v":1.1},{"g":"SDHA","c":9,"v":1.1},{"g":"SDHA","c":10,"v":1.35},{"g":"SDHA","c":11,"v":0.62},{"g":"SDHA","c":12,"v":0.62},{"g":"SDHA","c":13,"v":1.15},{"g":"SDHA","c":14,"v":0.98},{"g":"SDHA","c":15,"v":0.98},{"g":"SDHA","c":16,"v":1.15},{"g":"SDHA","c":17,"v":0.98},{"g":"SDHA","c":18,"v":1.8},{"g":"SDHA","c":19,"v":1.6},{"g":"SDHA","c":20,"v":0.86},{"g":"SDHA","c":21,"v":0.98},{"g":"SDHA","c":22,"v":1.1},{"g":"SDHA","c":23,"v":1.1},{"g":"SDHA","c":24,"v":1.3},{"g":"SDHA","c":25,"v":1.3},{"g":"SDHA","c":26,"v":1.1},{"g":"SDHA","c":27,"v":0.92},{"g":"SDHA","c":28,"v":0.86},{"g":"SDHA","c":29,"v":0.62},{"g":"SDHA","c":30,"v":0.86},{"g":"SDHA","c":31,"v":0.92},{"g":"SDHA","c":32,"v":0.98},{"g":"SDHA","c":33,"v":1.1},{"g":"SDHA","c":34,"v":0.98},{"g":"SDHA","c":35,"v":0.86},
{"g":"SDHB","c":0,"v":1.45},{"g":"SDHB","c":1,"v":1.35},{"g":"SDHB","c":2,"v":0.92},{"g":"SDHB","c":3,"v":1.3},{"g":"SDHB","c":4,"v":0.98},{"g":"SDHB","c":5,"v":0.98},{"g":"SDHB","c":6,"v":1.45},{"g":"SDHB","c":7,"v":0.62},{"g":"SDHB","c":8,"v":1.1},{"g":"SDHB","c":9,"v":0.92},{"g":"SDHB","c":10,"v":0.4},{"g":"SDHB","c":11,"v":0.86},{"g":"SDHB","c":12,"v":0.5},{"g":"SDHB","c":13,"v":0.45},{"g":"SDHB","c":14,"v":0.5},{"g":"SDHB","c":15,"v":0.45},{"g":"SDHB","c":16,"v":0.45},{"g":"SDHB","c":17,"v":0.45},{"g":"SDHB","c":18,"v":1.5},{"g":"SDHB","c":19,"v":1.15},{"g":"SDHB","c":20,"v":1.65},{"g":"SDHB","c":21,"v":2.2},{"g":"SDHB","c":22,"v":1.1},{"g":"SDHB","c":23,"v":1.35},{"g":"SDHB","c":24,"v":2.25},{"g":"SDHB","c":25,"v":1.25},{"g":"SDHB","c":26,"v":2.0},{"g":"SDHB","c":27,"v":1.55},{"g":"SDHB","c":28,"v":0.68},{"g":"SDHB","c":29,"v":1.25},{"g":"SDHB","c":30,"v":0.98},{"g":"SDHB","c":31,"v":0.74},{"g":"SDHB","c":32,"v":1.1},{"g":"SDHB","c":33,"v":0.5},{"g":"SDHB","c":34,"v":0.98},{"g":"SDHB","c":35,"v":0.62},
{"g":"Sirt 1","c":0,"v":1.15},{"g":"Sirt 1","c":1,"v":1.1},{"g":"Sirt 1","c":2,"v":1.2},{"g":"Sirt 1","c":3,"v":1.15},{"g":"Sirt 1","c":4,"v":1.15},{"g":"Sirt 1","c":5,"v":1.2},{"g":"Sirt 1","c":6,"v":1.15},{"g":"Sirt 1","c":7,"v":1.1},{"g":"Sirt 1","c":8,"v":1.5},{"g":"Sirt 1","c":9,"v":0.98},{"g":"Sirt 1","c":10,"v":0.98},{"g":"Sirt 1","c":11,"v":0.98},{"g":"Sirt 1","c":12,"v":1.2},{"g":"Sirt 1","c":13,"v":1.2},{"g":"Sirt 1","c":14,"v":1.25},{"g":"Sirt 1","c":15,"v":1.2},{"g":"Sirt 1","c":16,"v":1.2},{"g":"Sirt 1","c":17,"v":1.3},{"g":"Sirt 1","c":18,"v":1.04},{"g":"Sirt 1","c":19,"v":0.98},{"g":"Sirt 1","c":20,"v":1.1},{"g":"Sirt 1","c":21,"v":0.98},{"g":"Sirt 1","c":22,"v":0.98},{"g":"Sirt 1","c":23,"v":0.98},{"g":"Sirt 1","c":24,"v":0.98},{"g":"Sirt 1","c":25,"v":1.2},{"g":"Sirt 1","c":26,"v":0.98},{"g":"Sirt 1","c":27,"v":0.86},{"g":"Sirt 1","c":28,"v":0.92},{"g":"Sirt 1","c":29,"v":0.92},{"g":"Sirt 1","c":30,"v":0.92},{"g":"Sirt 1","c":31,"v":0.92},{"g":"Sirt 1","c":32,"v":0.92},{"g":"Sirt 1","c":33,"v":0.92},{"g":"Sirt 1","c":34,"v":0.92},{"g":"Sirt 1","c":35,"v":0.86},
{"g":"Tfam","c":0,"v":0.92},{"g":"Tfam","c":1,"v":1.1},{"g":"Tfam","c":2,"v":1.1},{"g":"Tfam","c":3,"v":1.4},{"g":"Tfam","c":4,"v":0.86},{"g":"Tfam","c":5,"v":0.62},{"g":"Tfam","c":6,"v":0.68},{"g":"Tfam","c":7,"v":0.74},{"g":"Tfam","c":8,"v":1.15},{"g":"Tfam","c":9,"v":1.15},{"g":"Tfam","c":10,"v":0.98},{"g":"Tfam","c":11,"v":1.1},{"g":"Tfam","c":12,"v":0.86},{"g":"Tfam","c":13,"v":1.15},{"g":"Tfam","c":14,"v":1.25},{"g":"Tfam","c":15,"v":1.25},{"g":"Tfam","c":16,"v":1.2},{"g":"Tfam","c":17,"v":0.98},{"g":"Tfam","c":18,"v":1.15},{"g":"Tfam","c":19,"v":0.98},{"g":"Tfam","c":20,"v":1.15},{"g":"Tfam","c":21,"v":1.85},{"g":"Tfam","c":22,"v":0.74},{"g":"Tfam","c":23,"v":0.86},{"g":"Tfam","c":24,"v":1.25},{"g":"Tfam","c":25,"v":1.25},{"g":"Tfam","c":26,"v":1.3},{"g":"Tfam","c":27,"v":1.1},{"g":"Tfam","c":28,"v":1.04},{"g":"Tfam","c":29,"v":1.04},{"g":"Tfam","c":30,"v":1.1},{"g":"Tfam","c":31,"v":0.68},{"g":"Tfam","c":32,"v":1.1},{"g":"Tfam","c":33,"v":1.25},{"g":"Tfam","c":34,"v":1.2},{"g":"Tfam","c":35,"v":0.92},
{"g":"TOM 20","c":0,"v":1.1},{"g":"TOM 20","c":1,"v":1.15},{"g":"TOM 20","c":2,"v":1.25},{"g":"TOM 20","c":3,"v":1.15},{"g":"TOM 20","c":4,"v":1.1},{"g":"TOM 20","c":5,"v":1.85},{"g":"TOM 20","c":6,"v":0.98},{"g":"TOM 20","c":7,"v":1.2},{"g":"TOM 20","c":8,"v":0.74},{"g":"TOM 20","c":9,"v":0.92},{"g":"TOM 20","c":10,"v":1.1},{"g":"TOM 20","c":11,"v":1.1},{"g":"TOM 20","c":12,"v":0.86},{"g":"TOM 20","c":13,"v":1.1},{"g":"TOM 20","c":14,"v":1.95},{"g":"TOM 20","c":15,"v":0.68},{"g":"TOM 20","c":16,"v":0.68},{"g":"TOM 20","c":17,"v":0.86},{"g":"TOM 20","c":18,"v":1.1},{"g":"TOM 20","c":19,"v":1.1},{"g":"TOM 20","c":20,"v":1.15},{"g":"TOM 20","c":21,"v":1.15},{"g":"TOM 20","c":22,"v":1.15},{"g":"TOM 20","c":23,"v":1.3},{"g":"TOM 20","c":24,"v":0.62},{"g":"TOM 20","c":25,"v":1.15},{"g":"TOM 20","c":26,"v":0.68},{"g":"TOM 20","c":27,"v":1.55},{"g":"TOM 20","c":28,"v":1.04},{"g":"TOM 20","c":29,"v":1.04},{"g":"TOM 20","c":30,"v":1.04},{"g":"TOM 20","c":31,"v":0.68},{"g":"TOM 20","c":32,"v":1.6},{"g":"TOM 20","c":33,"v":1.15},{"g":"TOM 20","c":34,"v":0.62},{"g":"TOM 20","c":35,"v":0.68},
{"g":"UQCRC1","c":0,"v":0.98},{"g":"UQCRC1","c":1,"v":0.68},{"g":"UQCRC1","c":2,"v":0.92},{"g":"UQCRC1","c":3,"v":1.25},{"g":"UQCRC1","c":4,"v":2.0},{"g":"UQCRC1","c":5,"v":1.4},{"g":"UQCRC1","c":6,"v":0.98},{"g":"UQCRC1","c":7,"v":1.4},{"g":"UQCRC1","c":8,"v":1.15},{"g":"UQCRC1","c":9,"v":1.1},{"g":"UQCRC1","c":10,"v":0.98},{"g":"UQCRC1","c":11,"v":1.25},{"g":"UQCRC1","c":12,"v":1.15},{"g":"UQCRC1","c":13,"v":0.74},{"g":"UQCRC1","c":14,"v":0.86},{"g":"UQCRC1","c":15,"v":1.15},{"g":"UQCRC1","c":16,"v":1.1},{"g":"UQCRC1","c":17,"v":1.1},{"g":"UQCRC1","c":18,"v":0.74},{"g":"UQCRC1","c":19,"v":0.8},{"g":"UQCRC1","c":20,"v":1.1},{"g":"UQCRC1","c":21,"v":1.4},{"g":"UQCRC1","c":22,"v":1.1},{"g":"UQCRC1","c":23,"v":0.92},{"g":"UQCRC1","c":24,"v":1.25},{"g":"UQCRC1","c":25,"v":1.15},{"g":"UQCRC1","c":26,"v":0.98},{"g":"UQCRC1","c":27,"v":1.15},{"g":"UQCRC1","c":28,"v":1.15},{"g":"UQCRC1","c":29,"v":1.15},{"g":"UQCRC1","c":30,"v":1.1},{"g":"UQCRC1","c":31,"v":0.68},{"g":"UQCRC1","c":32,"v":0.92},{"g":"UQCRC1","c":33,"v":0.92},{"g":"UQCRC1","c":34,"v":0.92},{"g":"UQCRC1","c":35,"v":0.92},
{"g":"UQCRC2","c":0,"v":1.15},{"g":"UQCRC2","c":1,"v":1.2},{"g":"UQCRC2","c":2,"v":1.4},{"g":"UQCRC2","c":3,"v":1.15},{"g":"UQCRC2","c":4,"v":1.1},{"g":"UQCRC2","c":5,"v":1.1},{"g":"UQCRC2","c":6,"v":1.1},{"g":"UQCRC2","c":7,"v":1.1},{"g":"UQCRC2","c":8,"v":0.98},{"g":"UQCRC2","c":9,"v":1.1},{"g":"UQCRC2","c":10,"v":0.74},{"g":"UQCRC2","c":11,"v":1.4},{"g":"UQCRC2","c":12,"v":0.86},{"g":"UQCRC2","c":13,"v":0.92},{"g":"UQCRC2","c":14,"v":1.2},{"g":"UQCRC2","c":15,"v":1.15},{"g":"UQCRC2","c":16,"v":1.15},{"g":"UQCRC2","c":17,"v":0.8},{"g":"UQCRC2","c":18,"v":1.4},{"g":"UQCRC2","c":19,"v":1.1},{"g":"UQCRC2","c":20,"v":0.86},{"g":"UQCRC2","c":21,"v":0.86},{"g":"UQCRC2","c":22,"v":1.1},{"g":"UQCRC2","c":23,"v":0.62},{"g":"UQCRC2","c":24,"v":1.3},{"g":"UQCRC2","c":25,"v":0.98},{"g":"UQCRC2","c":26,"v":1.15},{"g":"UQCRC2","c":27,"v":0.98},{"g":"UQCRC2","c":28,"v":0.74},{"g":"UQCRC2","c":29,"v":1.45},{"g":"UQCRC2","c":30,"v":1.25},{"g":"UQCRC2","c":31,"v":0.68},{"g":"UQCRC2","c":32,"v":1.15},{"g":"UQCRC2","c":33,"v":1.15},{"g":"UQCRC2","c":34,"v":1.15},{"g":"UQCRC2","c":35,"v":0.4},
{"g":"UQCRFS1","c":0,"v":0.98},{"g":"UQCRFS1","c":1,"v":1.1},{"g":"UQCRFS1","c":2,"v":1.15},{"g":"UQCRFS1","c":3,"v":1.45},{"g":"UQCRFS1","c":4,"v":0.74},{"g":"UQCRFS1","c":5,"v":0.74},{"g":"UQCRFS1","c":6,"v":1.1},{"g":"UQCRFS1","c":7,"v":1.4},{"g":"UQCRFS1","c":8,"v":1.15},{"g":"UQCRFS1","c":9,"v":1.25},{"g":"UQCRFS1","c":10,"v":0.56},{"g":"UQCRFS1","c":11,"v":0.98},{"g":"UQCRFS1","c":12,"v":0.62},{"g":"UQCRFS1","c":13,"v":0.62},{"g":"UQCRFS1","c":14,"v":1.1},{"g":"UQCRFS1","c":15,"v":0.68},{"g":"UQCRFS1","c":16,"v":0.98},{"g":"UQCRFS1","c":17,"v":1.15},{"g":"UQCRFS1","c":18,"v":1.15},{"g":"UQCRFS1","c":19,"v":1.25},{"g":"UQCRFS1","c":20,"v":1.55},{"g":"UQCRFS1","c":21,"v":0.8},{"g":"UQCRFS1","c":22,"v":1.1},{"g":"UQCRFS1","c":23,"v":0.92},{"g":"UQCRFS1","c":24,"v":1.55},{"g":"UQCRFS1","c":25,"v":0.98},{"g":"UQCRFS1","c":26,"v":1.15},{"g":"UQCRFS1","c":27,"v":1.35},{"g":"UQCRFS1","c":28,"v":1.3},{"g":"UQCRFS1","c":29,"v":0.92},{"g":"UQCRFS1","c":30,"v":1.1},{"g":"UQCRFS1","c":31,"v":0.68},{"g":"UQCRFS1","c":32,"v":1.2},{"g":"UQCRFS1","c":33,"v":0.8},{"g":"UQCRFS1","c":34,"v":1.1},{"g":"UQCRFS1","c":35,"v":1.4},
{"g":"VDAC","c":0,"v":1.1},{"g":"VDAC","c":1,"v":0.86},{"g":"VDAC","c":2,"v":1.1},{"g":"VDAC","c":3,"v":0.98},{"g":"VDAC","c":4,"v":1.95},{"g":"VDAC","c":5,"v":1.25},{"g":"VDAC","c":6,"v":1.1},{"g":"VDAC","c":7,"v":1.2},{"g":"VDAC","c":8,"v":1.2},{"g":"VDAC","c":9,"v":0.98},{"g":"VDAC","c":10,"v":1.25},{"g":"VDAC","c":11,"v":1.25},{"g":"VDAC","c":12,"v":1.3},{"g":"VDAC","c":13,"v":0.98},{"g":"VDAC","c":14,"v":1.3},{"g":"VDAC","c":15,"v":1.15},{"g":"VDAC","c":16,"v":1.35},{"g":"VDAC","c":17,"v":0.92},{"g":"VDAC","c":18,"v":0.92},{"g":"VDAC","c":19,"v":0.98},{"g":"VDAC","c":20,"v":0.98},{"g":"VDAC","c":21,"v":1.15},{"g":"VDAC","c":22,"v":0.74},{"g":"VDAC","c":23,"v":0.86},{"g":"VDAC","c":24,"v":1.35},{"g":"VDAC","c":25,"v":1.1},{"g":"VDAC","c":26,"v":0.92},{"g":"VDAC","c":27,"v":0.98},{"g":"VDAC","c":28,"v":0.86},{"g":"VDAC","c":29,"v":0.86},{"g":"VDAC","c":30,"v":0.86},{"g":"VDAC","c":31,"v":0.86},{"g":"VDAC","c":32,"v":0.86},{"g":"VDAC","c":33,"v":0.92},{"g":"VDAC","c":34,"v":0.86},{"g":"VDAC","c":35,"v":0.56}
]},
"layer": [
{
"mark": {"type": "rect"},
"encoding": {
"x": {"field": "c", "type": "ordinal", "axis": null, "scale": {"paddingInner": 0, "paddingOuter": 0}},
"y": {"field": "g", "type": "nominal", "sort": null, "scale": {"paddingInner": 0, "paddingOuter": 0},
"axis": {"orient": "right", "title": null, "domain": false, "offset": 4, "tickSize": 10, "tickWidth": 2, "tickColor": "#555", "labelFontSize": 26, "labelFont": "DejaVu Sans", "labelColor": "#444", "labelPadding": 20, "labelLimit": 400}},
"color": {"field": "v", "type": "quantitative",
"scale": {"type": "linear", "domain": [-0.4, 0, 0.3, 0.5, 0.68, 0.88, 1.05, 1.17, 1.35, 1.65, 2.0, 2.53],
"range": ["#0b0ba6", "#2838c0", "#4660dc", "#5e7eec", "#7393f4", "#9aa9db", "#b7bac6", "#c3bdb6", "#d4ac93", "#e3925c", "#d0583b", "#ad0c21"],
"interpolate": "rgb", "clamp": true},
"legend": {"orient": "none", "legendX": 984, "legendY": 692, "direction": "vertical", "gradientLength": 529, "gradientThickness": 60, "title": null, "values": [0, 0.5, 1, 1.5, 2, 2.5], "format": "~g", "labelFontSize": 22, "labelFont": "DejaVu Sans", "labelColor": "#444", "labelOffset": 6, "gradientStrokeColor": "#666", "gradientStrokeWidth": 2, "labelOverlap": false, "padding": 0}}
}
},
{
"data": {"values": [{"c": 10}, {"c": 18}, {"c": 28}]},
"mark": {"type": "rule", "color": "black", "strokeWidth": 6},
"encoding": {"x": {"field": "c", "type": "ordinal", "bandPosition": 0, "axis": null}}
}
]
},
{
"width": 690, "height": 160,
"view": {"stroke": null},
"data": {"values": [
{"label": "Control", "lvl": 1, "from": 0.15, "to": 9.6},
{"label": "Maternal\nObesity", "lvl": 1, "from": 10.2, "to": 17.75},
{"label": "Control", "lvl": 1, "from": 18.15, "to": 27.65},
{"label": "Maternal\nObesity", "lvl": 1, "from": 28.25, "to": 35.95},
{"label": "Left Lobe", "lvl": 2, "from": 0.15, "to": 17.8},
{"label": "Right Lobe", "lvl": 2, "from": 18.05, "to": 35.95}
]},
"encoding": {
"x": {"field": "from", "type": "quantitative", "scale": {"domain": [0, 36], "nice": false, "zero": false}, "axis": null},
"y": {"field": "lvl", "type": "quantitative", "scale": {"domain": [0.7126, 2.5517], "reverse": true, "nice": false, "zero": false}, "axis": null}
},
"layer": [
{"mark": {"type": "rule", "strokeWidth": 5, "color": "black"}, "encoding": {"x2": {"field": "to"}}},
{"mark": {"type": "tick", "orient": "vertical", "thickness": 5, "size": 20, "color": "black", "opacity": 1}},
{"mark": {"type": "tick", "orient": "vertical", "thickness": 5, "size": 20, "color": "black", "opacity": 1}, "encoding": {"x": {"field": "to", "type": "quantitative"}}},
{"transform": [{"filter": "datum.lvl == 1"}, {"calculate": "(datum.from + datum.to) / 2", "as": "mid"}],
"mark": {"type": "text", "baseline": "top", "dy": 19, "fontSize": 22, "font": "Liberation Sans", "lineBreak": "\n", "lineHeight": 32, "color": "black"},
"encoding": {"x": {"field": "mid", "type": "quantitative"}, "text": {"field": "label"}}},
{"transform": [{"filter": "datum.lvl == 2"}, {"calculate": "(datum.from + datum.to) / 2", "as": "mid"}],
"mark": {"type": "text", "baseline": "top", "dy": 24, "fontSize": 22, "font": "Liberation Sans", "color": "black"},
"encoding": {"x": {"field": "mid", "type": "quantitative"}, "text": {"field": "label"}}}
]
}
]
}
